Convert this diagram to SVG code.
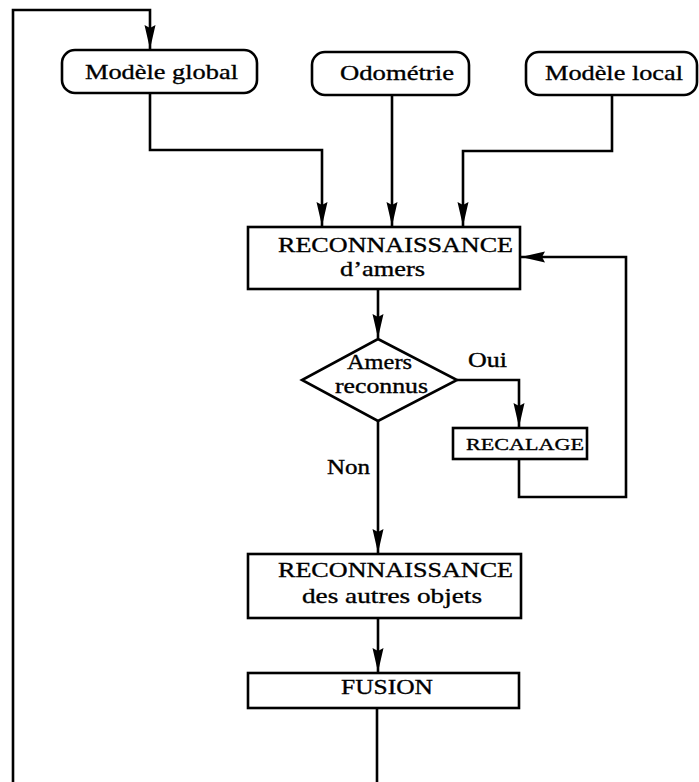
<svg xmlns="http://www.w3.org/2000/svg" width="699" height="782" viewBox="0 0 699 782">
<style>
.bx{fill:#fff;stroke:#000;stroke-width:2.6}
.cn{fill:none;stroke:#000;stroke-width:2.6;stroke-linejoin:miter}
.t{font-family:"Liberation Serif","Times New Roman",serif;font-size:22px;fill:#000;stroke:#000;stroke-width:0.35}
.s{font-size:17px}
.m{font-size:20px}
</style>
<defs>
<marker id="ah" markerWidth="26" markerHeight="12" refX="24" refY="5.5" orient="auto" markerUnits="userSpaceOnUse">
<polygon points="0,0 24,5.5 0,11 3,5.5" fill="#000"/>
</marker>
</defs>
<rect width="699" height="782" fill="#fff"/>
<g id="connectors">
<path class="cn" d="M377,708 V800 H13 V10 H150 V49" marker-end="url(#ah)"/>
<path class="cn" d="M150,93 V150 H322 V226" marker-end="url(#ah)"/>
<path class="cn" d="M392,95 V226" marker-end="url(#ah)"/>
<path class="cn" d="M612,95 V151 H463 V226" marker-end="url(#ah)"/>
<path class="cn" d="M378,289 V338" marker-end="url(#ah)"/>
<path class="cn" d="M457,380 H519 V427" marker-end="url(#ah)"/>
<path class="cn" d="M519,459 V497 H626 V257 H521" marker-end="url(#ah)"/>
<path class="cn" d="M378,421 V553" marker-end="url(#ah)"/>
<path class="cn" d="M378,618 V672" marker-end="url(#ah)"/>
</g>
<g id="modele-global">
<rect class="bx" x="62" y="50" width="195" height="43" rx="13"/>
<text class="t" x="85" y="79" textLength="153" lengthAdjust="spacingAndGlyphs">Modèle global</text>
</g>
<g id="odometrie">
<rect class="bx" x="312" y="52" width="157" height="43" rx="13"/>
<text class="t" x="340" y="80" textLength="114" lengthAdjust="spacingAndGlyphs">Odométrie</text>
</g>
<g id="modele-local">
<rect class="bx" x="526" y="52" width="171" height="43" rx="13"/>
<text class="t" x="545" y="80" textLength="138" lengthAdjust="spacingAndGlyphs">Modèle local</text>
</g>
<g id="reco-amers">
<rect class="bx" x="248" y="227" width="272" height="62"/>
<text class="t" x="278" y="252" textLength="235" lengthAdjust="spacingAndGlyphs">RECONNAISSANCE</text>
<text class="t" x="340" y="276" textLength="85" lengthAdjust="spacingAndGlyphs">d’amers</text>
</g>
<g id="amers-reconnus">
<polygon class="bx" points="378,339 457,380 378,421 302,380"/>
<text class="t m" x="347" y="369" textLength="65" lengthAdjust="spacingAndGlyphs">Amers</text>
<text class="t m" x="335" y="393" textLength="93" lengthAdjust="spacingAndGlyphs">reconnus</text>
</g>
<g id="label-oui">
<text class="t m" x="468" y="367" textLength="39" lengthAdjust="spacingAndGlyphs">Oui</text>
</g>
<g id="label-non">
<text class="t m" x="327" y="474" textLength="43" lengthAdjust="spacingAndGlyphs">Non</text>
</g>
<g id="recalage">
<rect class="bx" x="453" y="428" width="134" height="31"/>
<text class="t s" x="466" y="450" textLength="118" lengthAdjust="spacingAndGlyphs">RECALAGE</text>
</g>
<g id="reco-autres">
<rect class="bx" x="248" y="554" width="273" height="64"/>
<text class="t" x="278" y="577" textLength="235" lengthAdjust="spacingAndGlyphs">RECONNAISSANCE</text>
<text class="t" x="302" y="603" textLength="180" lengthAdjust="spacingAndGlyphs">des autres objets</text>
</g>
<g id="fusion">
<rect class="bx" x="248" y="673" width="271" height="35"/>
<text class="t" x="341" y="694" textLength="92" lengthAdjust="spacingAndGlyphs">FUSION</text>
</g>
</svg>
